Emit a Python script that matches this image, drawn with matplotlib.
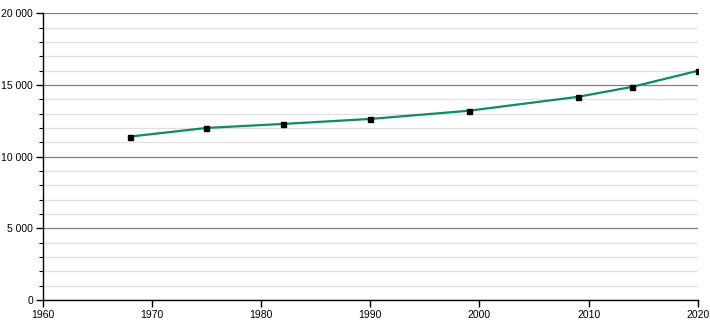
import matplotlib
matplotlib.use("Agg")
import matplotlib.pyplot as plt
from matplotlib.ticker import FuncFormatter, MultipleLocator

years = [1968, 1975, 1982, 1990, 1999, 2009, 2014, 2020]
population = [11400, 12000, 12280, 12630, 13200, 14170, 14870, 15990]

x_ticks = [1960, 1970, 1980, 1990, 2000, 2010, 2020]
y_ticks = [0, 5000, 10000, 15000, 20000]

plt.rcParams["font.family"] = ["Liberation Sans", "DejaVu Sans"]

fig = plt.figure(figsize=(7.1, 3.2), dpi=100)
ax = fig.add_axes([0.06, 0.0625, 0.923, 0.896])

ax.plot(years, population, color="#0e8a68", linewidth=1.6, zorder=3)
ax.plot(years, population, linestyle="none", marker="s", markersize=3.6,
        color="black", zorder=4)

ax.set_xlim(1960, 2020)
ax.set_ylim(0, 20000)
ax.set_xticks(x_ticks)
ax.set_yticks(y_ticks)
ax.yaxis.set_minor_locator(MultipleLocator(1000))
ax.yaxis.set_major_formatter(FuncFormatter(lambda v, _: f"{int(v):,}".replace(",", " ")))

ax.grid(axis="y", which="major", color="#808080", linewidth=0.9, zorder=1)
ax.grid(axis="y", which="minor", color="#e0e0e0", linewidth=0.9, zorder=1)
ax.set_axisbelow(True)

for side in ("top", "right"):
    ax.spines[side].set_visible(False)
for side in ("left", "bottom"):
    ax.spines[side].set_linewidth(1.0)
    ax.spines[side].set_color("black")

ax.tick_params(axis="both", which="major", length=5, width=1, labelsize=7.5, pad=2)
ax.tick_params(axis="y", which="minor", length=3, width=0.8)

fig.savefig("out.png", dpi=100)
